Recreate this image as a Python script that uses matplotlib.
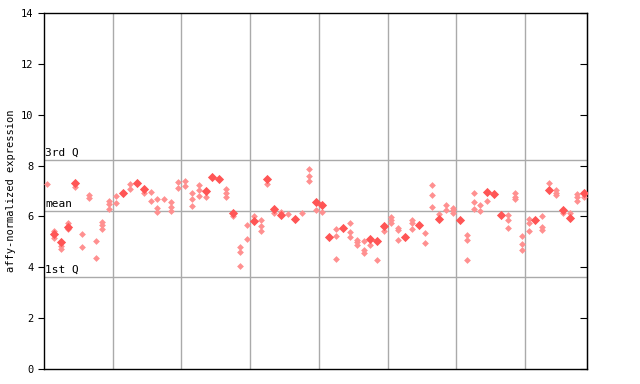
import numpy as np
import matplotlib
matplotlib.use("Agg")
import matplotlib.pyplot as plt

# expression values per sample column
values = [
    [7.27], [5.42, 5.30, 5.15], [4.99, 4.84, 4.71], [5.76, 5.58, 5.52], [7.31, 7.15],
    [5.30, 4.79], [6.86, 6.72], [5.05, 4.38], [5.80, 5.66, 5.52], [6.61, 6.47, 6.30],
    [6.81, 6.52], [6.94], [7.27, 7.07], [7.32], [7.06, 6.92],
    [6.96, 6.60], [6.68, 6.34, 6.19], [6.69], [6.56, 6.39, 6.22], [7.34, 7.11],
    [7.40, 7.20], [6.92, 6.68, 6.42], [7.22, 7.02, 6.80], [7.01, 6.77], [7.57],
    [7.49], [7.07, 6.92, 6.76], [6.15, 6.00], [4.79, 4.59, 4.06], [5.66, 5.12],
    [6.00, 5.83], [5.84, 5.64, 5.43], [7.48, 7.28], [6.29, 6.13], [6.19, 6.06],
    [6.09], [5.89], [6.14], [7.86, 7.60, 7.39], [6.58, 6.24],
    [6.46, 6.18], [5.18], [5.52, 5.22, 4.32], [5.55], [5.73, 5.38, 5.18],
    [5.08, 4.99, 4.88], [5.03, 4.69, 4.55], [5.13, 4.87], [5.05, 4.28], [5.64, 5.42],
    [5.97, 5.87, 5.73], [5.55, 5.47, 5.08], [5.21], [5.84, 5.73, 5.52], [5.66],
    [5.34, 4.95], [7.23, 6.84, 6.36], [6.09, 5.91], [6.43, 6.27], [6.34, 6.26, 6.13],
    [5.84], [5.26, 5.08, 4.28], [6.92, 6.56, 6.29], [6.44, 6.21], [6.97, 6.61],
    [6.90], [6.05], [6.06, 5.85, 5.54], [6.92, 6.78, 6.69], [5.22, 4.91, 4.67],
    [5.89, 5.73, 5.42], [5.87], [6.01, 5.58, 5.47], [7.31, 7.05], [7.05, 6.94, 6.85],
    [6.26, 6.13], [6.13, 5.94], [6.90, 6.76, 6.61], [6.93, 6.78],
]
# value drawn as a solid (filled) diamond in each column, None if none
solid = [
    None, 5.30, 4.99, 5.58, 7.31, None, None, None, None, None,
    None, 6.94, None, 7.32, 7.06, None, None, None, None, None,
    None, None, None, 7.01, 7.57, 7.49, None, 6.15, None, None,
    5.83, None, 7.48, 6.29, 6.06, None, 5.89, None, None, 6.58,
    6.46, 5.18, None, 5.55, None, None, None, 5.13, 5.05, 5.64,
    None, None, 5.21, None, 5.66, None, None, 5.91, None, None,
    5.84, None, None, None, 6.97, 6.90, 6.05, None, None, None,
    None, 5.87, None, 7.05, None, 6.26, 5.94, None, 6.93,
]

q3, mean, q1 = 8.21, 6.21, 3.62
group_edges = [10, 20, 30, 40, 50, 60, 70]

fig = plt.figure(figsize=(6.4, 3.84), dpi=100)
ax = fig.add_axes([44 / 640, 15 / 384, 543 / 640, 356 / 384])

mono = "DejaVu Sans Mono"

for g in group_edges:
    ax.axvline(g, color="#aaaaaa", lw=1, zorder=1)
for y in (q3, mean, q1):
    ax.axhline(y, color="#aaaaaa", lw=1, zorder=1)

xs, ys = [], []
for i, col in enumerate(values):
    for v in col:
        xs.append(i + 0.5)
        ys.append(v)
ax.scatter(xs, ys, marker="D", s=12, color="#ff9090", linewidths=0, zorder=3)

sx = [i + 0.5 for i, v in enumerate(solid) if v is not None]
sy = [v for v in solid if v is not None]
ax.scatter(sx, sy, marker="D", s=22, color="#ff5555", linewidths=0, zorder=4)

ax.text(0.2, q3 + 0.08, "3rd Q", fontsize=8, family=mono, va="bottom", ha="left")
ax.text(0.2, mean + 0.08, "mean", fontsize=8, family=mono, va="bottom", ha="left")
ax.text(0.2, q1 + 0.08, "1st Q", fontsize=8, family=mono, va="bottom", ha="left")

ax.set_xlim(0, len(values))
ax.set_ylim(0, 14)
ax.set_xticks([])
ax.set_yticks(np.arange(0, 15, 2))
ax.tick_params(axis="y", direction="out", length=4, labelsize=7.5)
for lab in ax.get_yticklabels():
    lab.set_family(mono)
ax.set_ylabel("affy-normalized expression", fontsize=7.5, family=mono)

right = ax.secondary_yaxis("right")
right.set_yticks(np.arange(0, 15, 2))
right.tick_params(direction="in", length=5, labelright=False)

for s in ax.spines.values():
    s.set_linewidth(1)

fig.savefig("out.png", dpi=100)
